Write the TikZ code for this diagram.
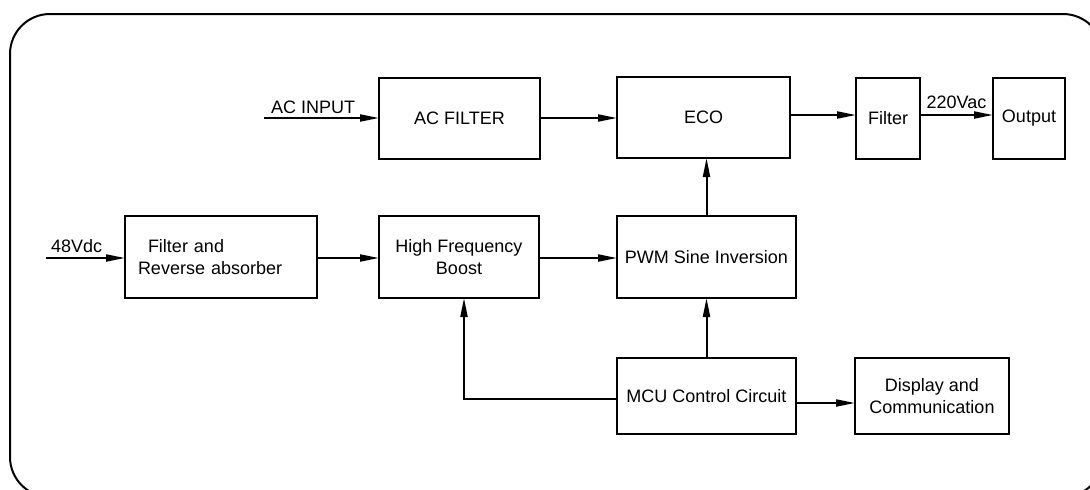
\documentclass[tikz,border=0pt]{standalone}
\usepackage{fontspec}
\setmainfont{Liberation Sans}
\usetikzlibrary{arrows.meta}
\begin{document}
\begin{tikzpicture}[x=1pt,y=-1pt,
  blk/.style={draw=black,line width=2pt,inner sep=0pt,outer sep=0pt,align=center,font=\fontsize{18}{22}\selectfont},
  arr/.style={line width=2pt,-{Triangle[length=19pt,width=7pt]}},
  lbl/.style={inner sep=0pt,font=\fontsize{18}{22}\selectfont}]
\useasboundingbox (0,0) rectangle (1090,490);
\clip (0,0) rectangle (1090,490);
\fill[white] (0,0) rectangle (1090,490);
\draw[line width=2pt,rounded corners=40pt] (10,14) rectangle (1103,497);
% boxes
\node[blk,minimum width=161pt,minimum height=81pt] (acf) at (459.5,118.5) {AC FILTER};
\node[blk,minimum width=173pt,minimum height=81pt] (eco) at (703.5,117.5) {ECO};
\node[blk,minimum width=64pt,minimum height=81pt] (flt) at (888,118.5) {Filter};
\node[blk,minimum width=72pt,minimum height=81pt] (out) at (1029,118.5) {Output};
\node[blk,minimum width=192pt,minimum height=82pt,text width=166pt,inner xsep=13pt,align=left] (fra) at (221,257) {\hspace*{10pt}Filter and\\Reverse absorber};
\node[blk,minimum width=160pt,minimum height=82pt] (hfb) at (459,257) {High Frequency\\Boost};
\node[blk,minimum width=179pt,minimum height=82pt] (pwm) at (706.5,257) {PWM Sine Inversion};
\node[blk,minimum width=179pt,minimum height=76pt] (mcu) at (706.5,396) {MCU Control Circuit};
\node[blk,minimum width=154pt,minimum height=76pt] (dsp) at (932,396) {Display and\\Communication};
% coordinates
\coordinate (acin) at (264,118);
\coordinate (dcin) at (46,258);
\coordinate (r1) at (0,115);
\coordinate (r2) at (0,258);
\coordinate (fb) at (464,399);
\coordinate (r3) at (0,403);
% labels
\node[lbl,anchor=base west] (aclbl) at (271,113) {AC INPUT};
\node[lbl,anchor=base west] (dclbl) at (51,252) {48Vdc};
\node[lbl,anchor=base] (vaclbl) at (956.5,108) {220Vac};
% connectors
\draw[arr] (acin) -- (acf.west |- acin);
\draw[arr] (acf.east |- acin) -- (eco.west |- acin);
\draw[arr] (eco.east |- r1) -- (flt.west |- r1);
\draw[arr] (flt.east |- r1) -- (out.west |- r1);
\draw[arr] (dcin) -- (fra.west |- dcin);
\draw[arr] (fra.east |- r2) -- (hfb.west |- r2);
\draw[arr] (hfb.east |- r2) -- (pwm.west |- r2);
\draw[arr] (pwm.north) -- (pwm.north |- eco.south);
\draw[arr] (mcu.north) -- (pwm.south);
\draw[arr] (mcu.west |- fb) -| (hfb.south -| fb);
\draw[arr] (mcu.east |- r3) -- (dsp.west |- r3);
\end{tikzpicture}
\end{document}
